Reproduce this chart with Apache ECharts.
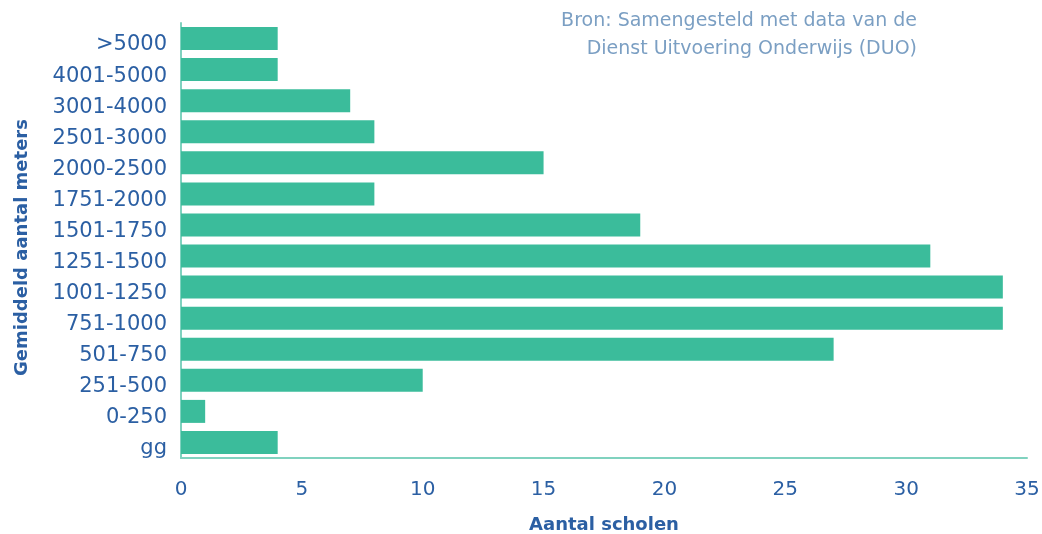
<!DOCTYPE html>
<html>
<head>
<meta charset="utf-8">
<script src="https://cdn.jsdelivr.net/npm/echarts@6/dist/echarts.min.js"></script>
<style>
  html, body { margin: 0; padding: 0; background: #fff; }
  #chart { width: 1042px; height: 534px; }
</style>
</head>
<body>
<div id="chart"></div>
<script>
  // categories from bottom to top
  var categories = ['gg', '0-250', '251-500', '501-750', '751-1000', '1001-1250', '1251-1500',
    '1501-1750', '1751-2000', '2000-2500', '2501-3000', '3001-4000', '4001-5000', '>5000'];
  var scholen = [4, 1, 10, 27, 34, 34, 31, 19, 8, 15, 8, 7, 4, 4];
  var bronText = 'Bron: Samengesteld met data van de\nDienst Uitvoering Onderwijs (DUO)';

  var textColor = '#2b5fa3';
  var font = 'DejaVu Sans';
  var myChart = echarts.init(document.getElementById('chart'));
  var option = {
    textStyle: { fontFamily: font },
    graphic: [{
      type: 'text',
      x: 917,
      y: 7,
      style: {
        text: bronText,
        align: 'right',
        fill: '#7b9fc3',
        fontSize: 19,
        lineHeight: 28,
        fontFamily: font
      }
    }],
    grid: { left: 181, right: 15, top: 23, bottom: 76, outerBoundsMode: 'none', containLabel: false },
    xAxis: {
      type: 'value',
      min: 0,
      max: 35,
      interval: 5,
      name: 'Aantal scholen',
      nameLocation: 'middle',
      nameGap: 58,
      nameTextStyle: { color: textColor, fontSize: 18, fontWeight: 'bold' },
      axisLine: { show: true, lineStyle: { color: '#80d2bf', width: 2 } },
      axisTick: { show: false },
      splitLine: { show: false },
      axisLabel: { color: textColor, fontSize: 20, margin: 22 }
    },
    yAxis: {
      type: 'category',
      data: categories,
      name: 'Gemiddeld aantal meters',
      nameLocation: 'middle',
      nameGap: 150,
      nameTextStyle: { color: textColor, fontSize: 18, fontWeight: 'bold', padding: [0, 14, 0, 0] },
      axisLine: { show: true, lineStyle: { color: '#80d2bf', width: 2 } },
      axisTick: { show: false },
      axisLabel: {
        color: textColor,
        fontSize: 21,
        margin: 14,
        formatter: function (v) { return '{a|' + v + '}'; },
        rich: { a: { color: textColor, fontSize: 21, fontFamily: font, padding: [13, 0, 0, 0] } }
      }
    },
    series: [{
      type: 'bar',
      data: scholen,
      barCategoryGap: '26%',
      itemStyle: { color: '#3bbc9b' }
    }]
  };
  myChart.setOption(option);
</script>
</body>
</html>
